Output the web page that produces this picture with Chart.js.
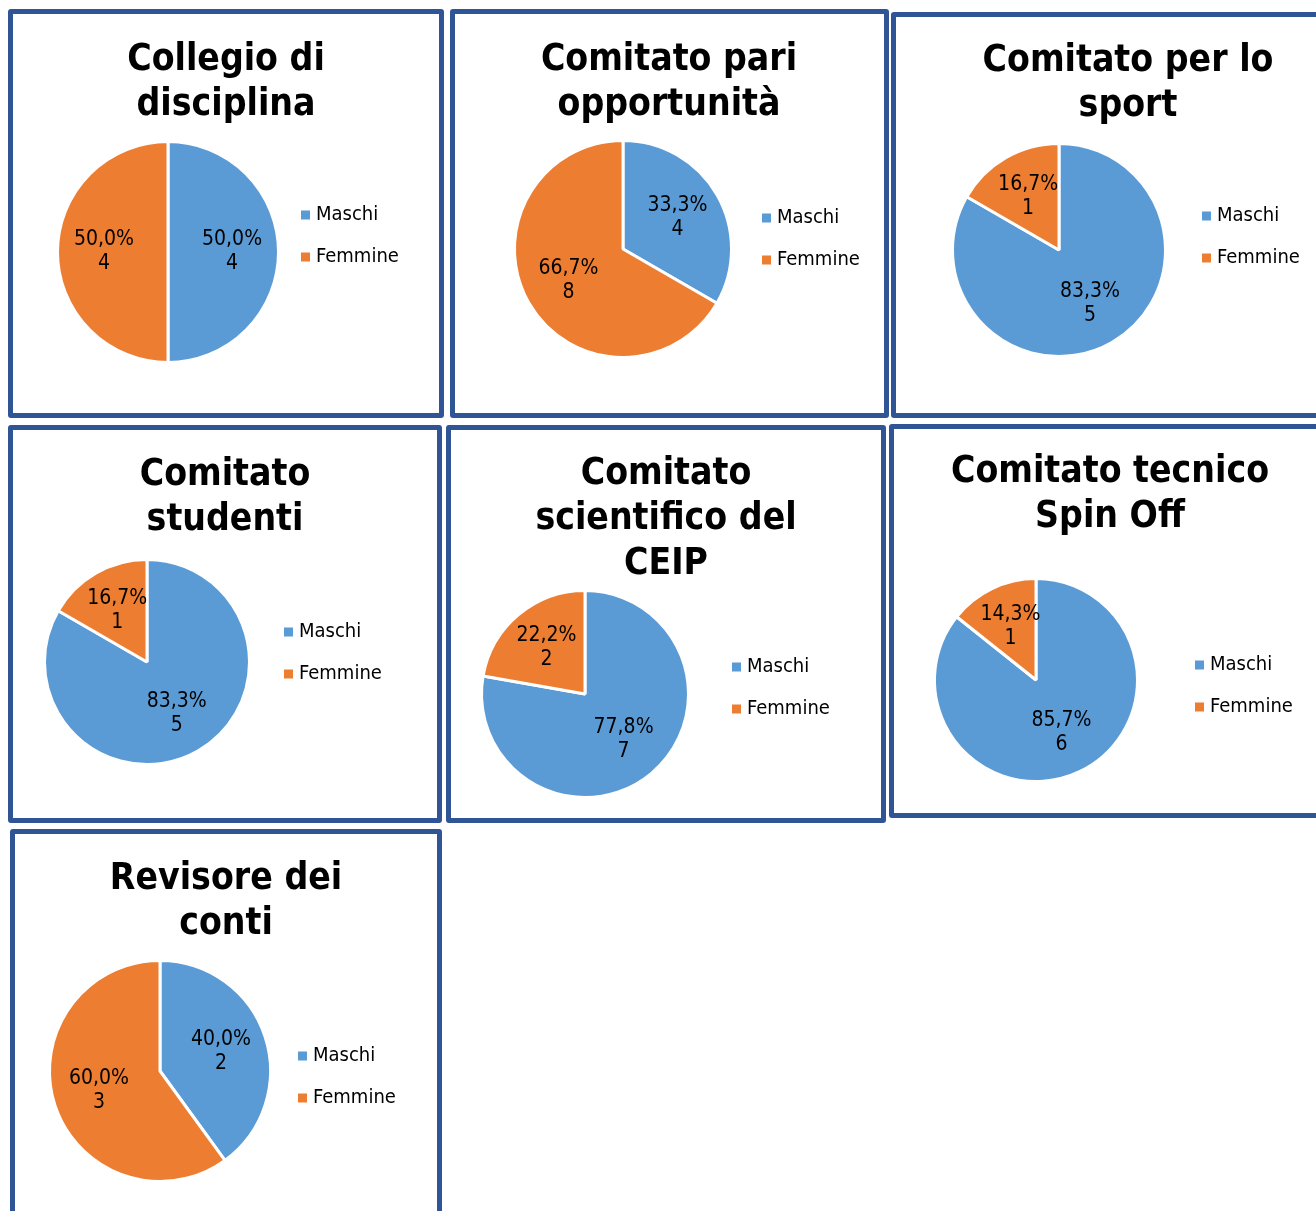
<!DOCTYPE html>
<html lang="it">
<head>
<meta charset="utf-8">
<title>Composizione per genere</title>
<script src="https://cdn.jsdelivr.net/npm/chart.js@4.4.1/dist/chart.umd.min.js"></script>
<style>
html, body { margin: 0; padding: 0; background: #fff; overflow: hidden; }
body { width: 1316px; height: 1211px; position: relative; }
.panel {
    position: absolute;
    box-sizing: border-box;
    border: 5px solid #2f5597;
    border-radius: 3px;
    background: #fff;
    overflow: hidden;
}
.panel canvas { position: absolute; left: 0; top: 0; }
</style>
</head>
<body>
<script>
const categories = ['Maschi', 'Femmine']
const titles = [
    ['Collegio di', 'disciplina'],
    ['Comitato pari', 'opportunità'],
    ['Comitato per lo', 'sport'],
    ['Comitato', 'studenti'],
    ['Comitato', 'scientifico del', 'CEIP'],
    ['Comitato tecnico', 'Spin Off'],
    ['Revisore dei', 'conti'],
]
const maschi = [4, 4, 5, 5, 7, 6, 2]
const femmine = [4, 8, 1, 1, 2, 1, 3]

const sliceColors = ['#5b9bd5', '#ed7d31']
const sliceBorder = 3
const frameBorder = 5
const labelFont = '21px "DejaVu Sans Condensed", "DejaVu Sans", sans-serif'
const legendFont = '20px "DejaVu Sans Condensed", "DejaVu Sans", sans-serif'
const titleFont = 'bold 37px "DejaVu Sans Condensed", "DejaVu Sans", sans-serif'

// page layout: frame [x, y, w, h], pie [cx, cy, r], legend [x, y], title [x, baseline]
const panels = [
    {box: [8, 9, 436, 409], pie: [168, 252, 109], legend: [301, 215], title: [226, 70]},
    {box: [450, 9, 439, 409], pie: [623, 249, 107], legend: [762, 218], title: [669, 70]},
    {box: [891, 12, 474, 406], pie: [1059, 250, 105], legend: [1202, 216], title: [1128, 71]},
    {box: [8, 425, 434, 398], pie: [147, 662, 101], legend: [284, 632], title: [225, 485]},
    {box: [446, 425, 440, 398], pie: [585, 694, 102], legend: [732, 667], title: [666, 484]},
    {box: [889, 424, 441, 394], pie: [1036, 680, 100], legend: [1195, 665], title: [1110, 482]},
    {box: [10, 829, 432, 420], pie: [160, 1071, 109], legend: [298, 1056], title: [226, 889]},
]

function formatPercent(share) {
    return (share * 100).toFixed(1).replace('.', ',') + '%'
}

const panelText = {
    id: 'panelText',
    afterDatasetsDraw(chart) {
        const ctx = chart.ctx
        const dataset = chart.data.datasets[0]
        const total = dataset.data.reduce((sum, v) => sum + v, 0)
        ctx.save()
        ctx.font = labelFont
        ctx.fillStyle = '#000'
        ctx.textAlign = 'center'
        ctx.textBaseline = 'middle'
        chart.getDatasetMeta(0).data.forEach((arc, i) => {
            const {x, y, startAngle, endAngle, outerRadius} = arc.getProps(['x', 'y', 'startAngle', 'endAngle', 'outerRadius'], true)
            const mid = (startAngle + endAngle) / 2
            const lx = x + Math.cos(mid) * outerRadius * 0.58
            const ly = y + Math.sin(mid) * outerRadius * 0.58
            ctx.fillText(formatPercent(dataset.data[i] / total), lx, ly - 12)
            ctx.fillText(String(dataset.data[i]), lx, ly + 12)
        })
        ctx.restore()
    },
    afterDraw(chart, args, options) {
        const ctx = chart.ctx
        const dataset = chart.data.datasets[0]
        ctx.save()
        ctx.fillStyle = '#000'
        ctx.font = titleFont
        ctx.textAlign = 'center'
        ctx.textBaseline = 'alphabetic'
        options.lines.forEach((line, i) => ctx.fillText(line, options.titleX, options.titleY + i * 45))

        ctx.font = legendFont
        ctx.textAlign = 'left'
        ctx.textBaseline = 'middle'
        chart.data.labels.forEach((label, i) => {
            const y = options.legendY + i * 42
            ctx.fillStyle = dataset.backgroundColor[i]
            ctx.fillRect(options.legendX, y - 4.5, 9, 9)
            ctx.fillStyle = '#000'
            ctx.fillText(label, options.legendX + 15, y)
        })
        ctx.restore()
    },
}

panels.forEach((panel, i) => {
    const [bx, by, bw, bh] = panel.box
    const [cx, cy, r] = panel.pie
    const frame = document.createElement('div')
    frame.className = 'panel'
    frame.style.left = bx + 'px'
    frame.style.top = by + 'px'
    frame.style.width = bw + 'px'
    frame.style.height = bh + 'px'
    const canvas = document.createElement('canvas')
    const cw = bw - 2 * frameBorder
    const ch = bh - 2 * frameBorder
    canvas.width = cw
    canvas.height = ch
    canvas.style.width = cw + 'px'
    canvas.style.height = ch + 'px'
    frame.appendChild(canvas)
    document.body.appendChild(frame)

    const ox = bx + frameBorder
    const oy = by + frameBorder
    const R = r + sliceBorder

    new Chart(canvas, {
        type: 'pie',
        plugins: [panelText],
        data: {
            labels: categories,
            datasets: [{
                data: [maschi[i], femmine[i]],
                backgroundColor: sliceColors,
                borderColor: '#fff',
                borderWidth: sliceBorder,
                hoverOffset: 0,
            }],
        },
        options: {
            responsive: false,
            animation: false,
            events: [],
            layout: {
                padding: {
                    left: cx - R - ox,
                    top: cy - R - oy,
                    right: cw - (cx + R - ox),
                    bottom: ch - (cy + R - oy),
                },
            },
            plugins: {
                legend: {display: false},
                tooltip: {enabled: false},
                panelText: {
                    lines: titles[i],
                    titleX: panel.title[0] - ox,
                    titleY: panel.title[1] - oy,
                    legendX: panel.legend[0] - ox,
                    legendY: panel.legend[1] - oy,
                },
            },
        },
    })
})
</script>
</body>
</html>
